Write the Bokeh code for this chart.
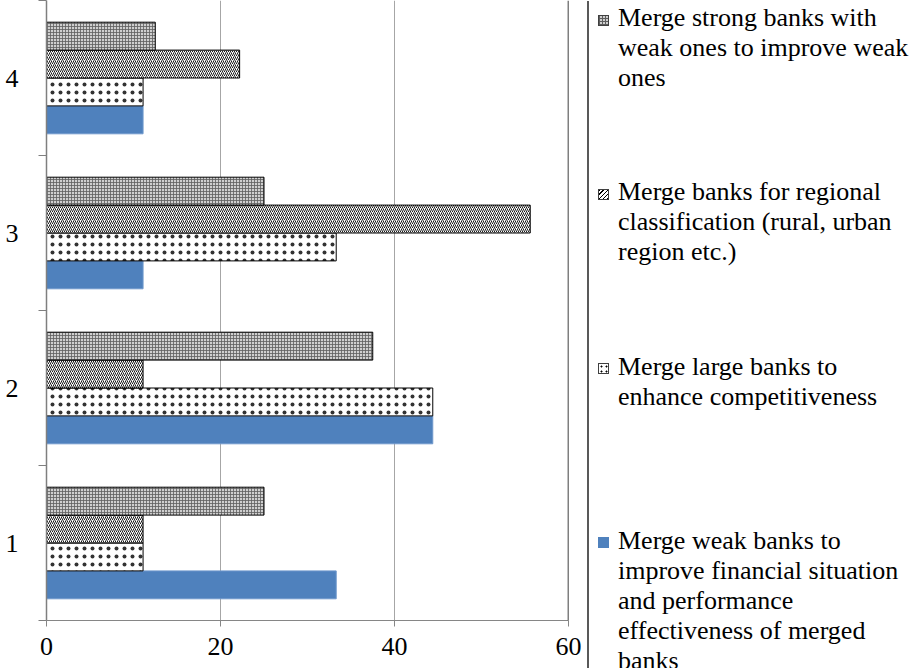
from bokeh.plotting import figure
from bokeh.layouts import row
from bokeh.models import ColumnDataSource, Range1d, FixedTicker, Span, Div
from bokeh.transform import dodge
from bokeh.embed import file_html
from bokeh.resources import INLINE

# ---- data ----
categories = [1, 2, 3, 4]
weak_banks = [33.3, 44.4, 11.1, 11.1]
large_banks = [11.1, 44.4, 33.3, 11.1]
regional_banks = [11.1, 11.1, 55.6, 22.2]
strong_weak = [25.0, 37.5, 25.0, 12.5]
x_ticks = [0, 20, 40, 60]

legend_strong = ["Merge strong banks with", "weak ones to improve weak", "ones"]
legend_regional = ["Merge banks for regional", "classification (rural, urban", "region etc.)"]
legend_large = ["Merge large banks to", "enhance competitiveness"]
legend_weak = ["Merge weak banks to", "improve financial situation", "and performance",
               "effectiveness of merged", "banks"]

FONT = "Liberation Serif"
BLUE = "#4F81BD"

src = ColumnDataSource(dict(cat=categories, weak=weak_banks, large=large_banks,
                            regional=regional_banks, strong=strong_weak))

p = figure(width=586, height=668, x_range=Range1d(0, 60), y_range=Range1d(0.5, 4.5),
           output_backend="svg", toolbar_location=None,
           min_border_left=46, min_border_right=18, min_border_top=0, min_border_bottom=48)
p.outline_line_color = None

bh = 0.18
styles = [
    ("weak", -0.27, dict(fill_color=BLUE, line_color="#6f98cc")),
    ("large", -0.09, dict(fill_color="white", line_color="black", hatch_pattern=".",
                          hatch_color="black", hatch_scale=8, hatch_weight=0.3, hatch_alpha=0.8)),
    ("regional", 0.09, dict(fill_color="white", line_color="black", hatch_pattern="/",
                            hatch_color="black", hatch_scale=4, hatch_weight=0.9)),
    ("strong", 0.27, dict(fill_color="#cfcfcf", line_color="black", hatch_pattern="+",
                          hatch_color="#5e5e5e", hatch_scale=3, hatch_weight=0.8)),
]
for col, off, st in styles:
    p.hbar(y=dodge("cat", off), right=col, left=0, height=bh, source=src, line_width=1, **st)

# y axis
p.yaxis.ticker = FixedTicker(ticks=categories, minor_ticks=[0.5, 1.5, 2.5, 3.5, 4.5])
p.yaxis.major_tick_line_color = None
p.yaxis.major_tick_out = 0
p.yaxis.major_tick_in = 0
p.yaxis.minor_tick_out = 8
p.yaxis.minor_tick_in = 0
p.yaxis.minor_tick_line_color = "#7f7f7f"
p.yaxis.axis_line_color = "#7f7f7f"
p.yaxis.axis_line_width = 1.5
p.yaxis.axis_label_standoff = 0
p.yaxis.major_label_text_font = FONT
p.yaxis.major_label_text_font_size = "26px"
p.yaxis.major_label_text_color = "black"
p.yaxis.major_label_standoff = 20

# x axis
p.xaxis.ticker = FixedTicker(ticks=x_ticks)
p.xaxis.major_tick_out = 6
p.xaxis.major_tick_in = 0
p.xaxis.major_tick_line_color = "#868686"
p.xaxis.minor_tick_line_color = None
p.xaxis.axis_line_color = "#868686"
p.xaxis.axis_label_standoff = 0
p.xaxis.major_label_text_font = FONT
p.xaxis.major_label_text_font_size = "26px"
p.xaxis.major_label_text_color = "black"
p.xaxis.major_label_standoff = 11

p.ygrid.grid_line_color = None
p.xgrid.ticker = FixedTicker(ticks=[20, 40])
p.xgrid.grid_line_color = "#a6a6a6"
p.add_layout(Span(location=60, dimension="height", line_color="black", line_width=1.5))

# ---- legend panel (HTML, so that it may run below the plot area) ----
marker_css = [
    "background-color:#cfcfcf;"
    "background-image:repeating-linear-gradient(0deg,#5e5e5e 0 1px,transparent 1px 3px),"
    "repeating-linear-gradient(90deg,#5e5e5e 0 1px,transparent 1px 3px);",
    "background-color:white;"
    "background-image:repeating-linear-gradient(-45deg,#000 0 1px,#fff 1px 3px);",
    "background-color:white;"
    "background-image:radial-gradient(circle,#000 0.8px,transparent 1.2px);"
    "background-size:5px 5px;",
    "background-color:%s;" % BLUE,
]
entries = [legend_strong, legend_regional, legend_large, legend_weak]
entry_step = 174.3
line_step = 30
parts = ['<div style="position:relative;left:-4px;top:-4px;width:333px;height:672px;'
         'font-family:\'Liberation Serif\',serif;font-size:26px;line-height:%dpx;color:#000;">'
         % line_step,
         '<div style="position:absolute;left:0;top:0;width:1.5px;height:672px;'
         'background:#595959;"></div>']
for i, lines in enumerate(entries):
    yc = 17 + entry_step * i
    border = "1px solid %s" % (BLUE if i == 3 else "#404040")
    parts.append('<div style="position:absolute;left:11px;top:%.1fpx;width:11px;height:11px;'
                 'box-sizing:border-box;border:%s;%s"></div>'
                 % (yc + 2 - 5.5, border, marker_css[i]))
    parts.append('<div style="position:absolute;left:31px;top:%.1fpx;white-space:nowrap;">%s</div>'
                 % (yc - line_step / 2, "<br>".join(lines)))
parts.append("</div>")
legend = Div(text="".join(parts), width=329, height=668)

layout = row(p, legend)
open("out.html", "w").write(file_html(layout, INLINE))
